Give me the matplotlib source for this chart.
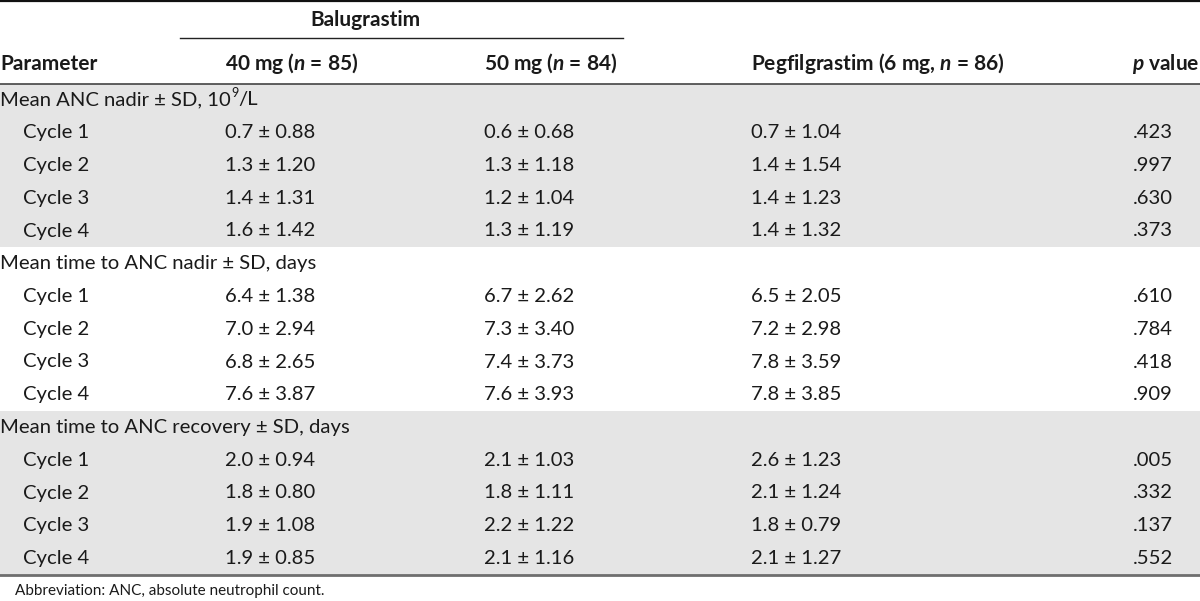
import matplotlib
matplotlib.use("Agg")
import matplotlib.pyplot as plt

plt.rcParams['font.family'] = ['Lato', 'DejaVu Sans']
plt.rcParams['mathtext.fontset'] = 'custom'
plt.rcParams['mathtext.it'] = 'Lato:italic:bold'
plt.rcParams['mathtext.rm'] = 'Lato:bold'

# table content
sections = ["Mean ANC nadir \u00b1 SD, 10",
            "Mean time to ANC nadir \u00b1 SD, days",
            "Mean time to ANC recovery \u00b1 SD, days"]
cycles = ["Cycle 1", "Cycle 2", "Cycle 3", "Cycle 4"]

balu40_mean = [0.7, 1.3, 1.4, 1.6, 6.4, 7.0, 6.8, 7.6, 2.0, 1.8, 1.9, 1.9]
balu40_sd = [0.88, 1.20, 1.31, 1.42, 1.38, 2.94, 2.65, 3.87, 0.94, 0.80, 1.08, 0.85]
balu50_mean = [0.6, 1.3, 1.2, 1.3, 6.7, 7.3, 7.4, 7.6, 2.1, 1.8, 2.2, 2.1]
balu50_sd = [0.68, 1.18, 1.04, 1.19, 2.62, 3.40, 3.73, 3.93, 1.03, 1.11, 1.22, 1.16]
peg_mean = [0.7, 1.4, 1.4, 1.4, 6.5, 7.2, 7.8, 7.8, 2.6, 2.1, 1.8, 2.1]
peg_sd = [1.04, 1.54, 1.23, 1.32, 2.05, 2.98, 3.59, 3.85, 1.23, 1.24, 0.79, 1.27]
p_values = [".423", ".997", ".630", ".373", ".610", ".784", ".418", ".909",
            ".005", ".332", ".137", ".552"]

headers = ["Parameter", "40 mg ($n$ = 85)", "50 mg ($n$ = 84)",
           "Pegfilgrastim (6 mg, $n$ = 86)"]
footnote = "Abbreviation: ANC, absolute neutrophil count."

fig = plt.figure(figsize=(12, 6.01), dpi=100)
ax = fig.add_axes([0, 0, 1, 1])
ax.set_xlim(0, 1200)
ax.set_ylim(601, 0)
ax.axis("off")

fs = 14.6
hfs = 15.0
txt = "#1a1a1a"
col_x = [0, 225, 484, 751]
pval_x = 1173
row_h = 32.75
first_row = 100
band_top = 83.6
pm = " \u00b1 "

# shaded bands for sections 1 and 3
for s in [0, 2]:
    top = band_top + s * 5 * row_h
    ax.axhspan(top, top + 5 * row_h, color="#e5e5e5", lw=0, zorder=0)

# rules
ax.plot([0, 1200], [1, 1], color="#111111", lw=1.6)
ax.plot([180, 623], [38, 38], color="#222222", lw=1.0)
ax.plot([0, 1200], [band_top, band_top], color="#444444", lw=1.2)
ax.plot([0, 1200], [band_top + 15 * row_h, band_top + 15 * row_h], color="#6e6e6e", lw=2.0)

# header
ax.text(365, 20, "Balugrastim", fontsize=hfs, fontweight="bold", color=txt,
        ha="center", va="center")
for x, h in zip(col_x, headers):
    ax.text(x, 64, h, fontsize=hfs, fontweight="bold", color=txt, ha="left", va="center")
ax.text(1199, 64, "$p$ value", fontsize=hfs, fontweight="bold", color=txt,
        ha="right", va="center")

# body
for s, title in enumerate(sections):
    y = first_row + s * 5 * row_h
    t = ax.text(0, y, title, fontsize=fs, color=txt, ha="left", va="center")
    if s == 0:
        fig.canvas.draw()
        bb = t.get_window_extent().transformed(ax.transData.inverted())
        x_end = bb.x1
        ax.text(x_end + 0.5, y - 7, "9", fontsize=fs * 0.62, color=txt, ha="left", va="center")
        ax.text(x_end + 8, y, "/L", fontsize=fs, color=txt, ha="left", va="center")
    for c, cyc in enumerate(cycles):
        i = s * 4 + c
        yy = y + (c + 1) * row_h
        ax.text(23, yy, cyc, fontsize=fs, color=txt, ha="left", va="center")
        ax.text(col_x[1], yy, f"{balu40_mean[i]:.1f}{pm}{balu40_sd[i]:.2f}",
                fontsize=fs, color=txt, ha="left", va="center")
        ax.text(col_x[2], yy, f"{balu50_mean[i]:.1f}{pm}{balu50_sd[i]:.2f}",
                fontsize=fs, color=txt, ha="left", va="center")
        ax.text(col_x[3], yy, f"{peg_mean[i]:.1f}{pm}{peg_sd[i]:.2f}",
                fontsize=fs, color=txt, ha="left", va="center")
        ax.text(pval_x, yy, p_values[i], fontsize=fs, color=txt, ha="right", va="center")

ax.text(15, 591, footnote, fontsize=11, color=txt, ha="left", va="center")

fig.savefig("out.png", dpi=100)
